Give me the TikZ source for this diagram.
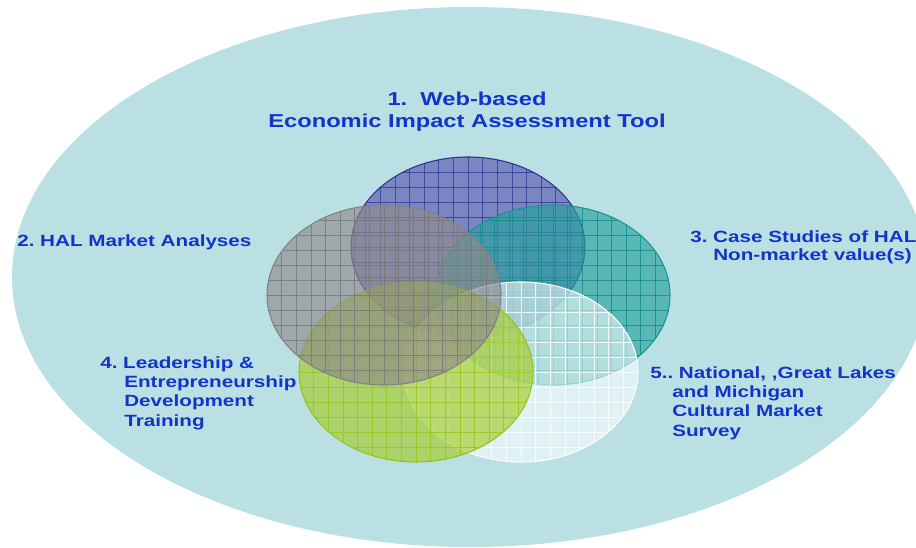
\documentclass[tikz,border=0pt]{standalone}
\usepackage{fontspec}
\setmainfont{Liberation Sans}[FakeStretch=1.27]
\usetikzlibrary{shapes.geometric,calc}
\definecolor{bgteal}{RGB}{186,224,227}
\definecolor{labelblue}{RGB}{18,52,200}
\definecolor{bluefill}{RGB}{88,87,175}
\definecolor{blueline}{RGB}{45,50,145}
\definecolor{bluegrid}{RGB}{50,58,150}
\definecolor{grayfill}{RGB}{144,139,139}
\definecolor{grayline}{RGB}{128,128,134}
\definecolor{graygrid}{RGB}{118,118,124}
\definecolor{tealfill}{RGB}{38,164,159}
\definecolor{tealline}{RGB}{20,150,145}
\definecolor{tealgrid}{RGB}{20,140,135}
\definecolor{greenfill}{RGB}{166,205,42}
\definecolor{greenline}{RGB}{150,195,20}
\definecolor{greengrid}{RGB}{150,198,25}
\frenchspacing
\tikzset{
  venn/.style={ellipse, inner sep=0pt, minimum width=175.5pt, minimum height=135pt, line width=0.8pt},
  vgrid/.style={path picture={
    \foreach \k in {1,...,15}{\draw[line width=0.45pt, draw opacity=0.8, #1] ($(path picture bounding box.north west)!\k/16!(path picture bounding box.north east)$) -- ($(path picture bounding box.south west)!\k/16!(path picture bounding box.south east)$);}
    \foreach \k in {1,...,11}{\draw[line width=0.45pt, draw opacity=0.8, #1] ($(path picture bounding box.north west)!\k/12!(path picture bounding box.south west)$) -- ($(path picture bounding box.north east)!\k/12!(path picture bounding box.south east)$);}
  }},
  lbl/.style={text=labelblue, font=\bfseries\fontsize{12.2pt}{14.4pt}\selectfont, align=left, inner sep=0pt, anchor=base west},
  ttl/.style={text=labelblue, font=\bfseries\fontsize{14pt}{16.5pt}\selectfont, align=center, inner sep=0pt, anchor=base},
}
\begin{document}
\begin{tikzpicture}[x=0.75pt,y=-0.75pt]
\useasboundingbox (0,0) rectangle (916,548);
\clip (0,0) rectangle (916,548);
\node[ellipse, inner sep=0pt, fill=bgteal, minimum width=687pt, minimum height=405pt] (outer) at (470,277) {};

\node[venn, fill=bluefill, fill opacity=0.65, draw=blueline, vgrid={draw=bluegrid}] (web) at (468,247) {};
\node[venn, fill=tealfill, fill opacity=0.65, draw=tealline, vgrid={draw=tealgrid}] (cases) at (553,295) {};
\node[venn, fill=white, fill opacity=0.55, draw=white, vgrid={draw=white}] (survey) at (521,372) {};
\node[venn, fill=greenfill, fill opacity=0.65, draw=greenline, vgrid={draw=greengrid}] (training) at (416,372) {};
\node[venn, fill=grayfill, fill opacity=0.65, draw=grayline, vgrid={draw=graygrid}] (market) at (384,295) {};

\node[ttl] (t1) at (467,128) {1.~~Web-based\\Economic Impact Assessment Tool};
\node[lbl] (t2) at (17,247) {2. HAL Market Analyses};
\node[lbl, font=\bfseries\fontsize{12.2pt}{13.7pt}\selectfont] (t3) at (690,261) {3. Case Studies of HAL\\\hspace*{17.25pt}Non-market value(s)};
\node[lbl] (t4) at (100,426) {4. Leadership \&\\\hspace*{18pt}Entrepreneurship\\\hspace*{18pt}Development\\\hspace*{18pt}Training};
\node[lbl] (t5) at (650,436) {5.. National, ,Great Lakes\\\hspace*{16.5pt}and Michigan\\\hspace*{16.5pt}Cultural Market\\\hspace*{16.5pt}Survey};
\end{tikzpicture}
\end{document}
